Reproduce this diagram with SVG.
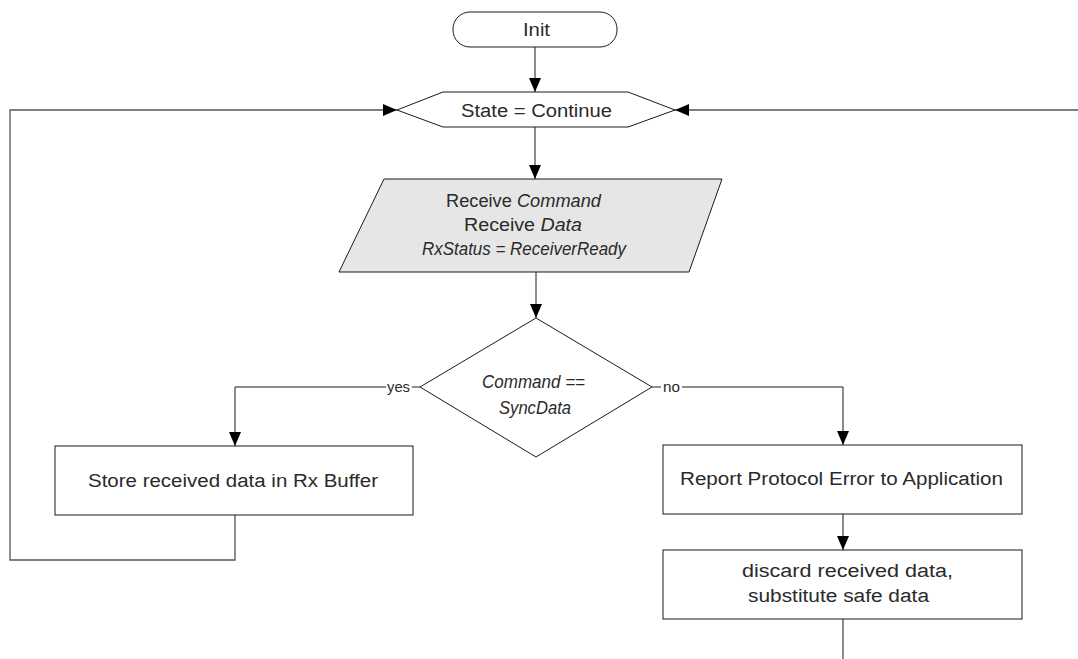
<svg xmlns="http://www.w3.org/2000/svg" width="1078" height="659" viewBox="0 0 1078 659">
<style>
.shape{fill:#fff;stroke:#1a1a1a;stroke-width:1}
.io{fill:#e6e6e6;stroke:#1a1a1a;stroke-width:1}
.t{font-family:"Liberation Sans",Arial,sans-serif;font-size:18px;fill:#2a2a2a;text-anchor:middle}
.i{font-style:italic}
.lbl{font-family:"Liberation Sans",Arial,sans-serif;font-size:14px;fill:#2a2a2a;text-anchor:middle}
.c{fill:none;stroke:#1a1a1a;stroke-width:1}
.loop{fill:none;stroke:#555;stroke-width:1.3}
</style>
<defs>
<marker id="arr" markerUnits="userSpaceOnUse" markerWidth="14" markerHeight="12" refX="14" refY="6" orient="auto">
<path d="M0,0 L14,6 L0,12 Z" fill="#000"/>
</marker>
</defs>
<g id="connectors">
<path class="c" d="M535,47 V92" marker-end="url(#arr)"/>
<path class="c" d="M535,127 V179" marker-end="url(#arr)"/>
<path class="c" d="M536,272 V318" marker-end="url(#arr)"/>
<path class="c" d="M420,387 H235 V446" marker-end="url(#arr)"/>
<path class="c" d="M652,387 H843 V445" marker-end="url(#arr)"/>
<path class="c" d="M843,514 V550" marker-end="url(#arr)"/>
<path class="c" d="M843,619 V659"/>
<path class="loop" d="M235,515 V560 H10 V110 H397" marker-end="url(#arr)"/>
<path class="loop" d="M1078,110 H675" marker-end="url(#arr)"/>
<rect x="386" y="379" width="26" height="16" fill="#fff"/>
<text class="lbl" x="398.5" y="392" textLength="23" lengthAdjust="spacingAndGlyphs">yes</text>
<rect x="661" y="379" width="21" height="16" fill="#fff"/>
<text class="lbl" x="671.5" y="392" textLength="17" lengthAdjust="spacingAndGlyphs">no</text>
</g>
<g id="init">
<rect class="shape" x="453" y="12" width="164" height="35" rx="17" ry="17"/>
<text class="t" x="536.5" y="36" textLength="27" lengthAdjust="spacingAndGlyphs">Init</text>
</g>
<g id="state">
<polygon class="shape" points="397,110 443,92 628,92 675,110 628,127 443,127"/>
<text class="t" x="536.5" y="117" textLength="151" lengthAdjust="spacingAndGlyphs">State = Continue</text>
</g>
<g id="receive">
<polygon class="io" points="384,179 722,179 689,272 339,272"/>
<text class="t" x="523.5" y="207" textLength="155" lengthAdjust="spacingAndGlyphs">Receive <tspan class="i">Command</tspan></text>
<text class="t" x="523" y="231" textLength="118" lengthAdjust="spacingAndGlyphs">Receive <tspan class="i">Data</tspan></text>
<text class="t i" x="524" y="255" textLength="204" lengthAdjust="spacingAndGlyphs">RxStatus = ReceiverReady</text>
</g>
<g id="decision">
<polygon class="shape" points="536,318 652,387 536,457 420,387"/>
<text class="t i" x="533.5" y="388" textLength="103" lengthAdjust="spacingAndGlyphs">Command ==</text>
<text class="t i" x="535" y="414" textLength="72" lengthAdjust="spacingAndGlyphs">SyncData</text>
</g>
<g id="store">
<rect class="shape" x="55" y="446" width="358" height="69"/>
<text class="t" x="233" y="487" textLength="290" lengthAdjust="spacingAndGlyphs">Store received data in Rx Buffer</text>
</g>
<g id="report">
<rect class="shape" x="663" y="445" width="359" height="69"/>
<text class="t" x="841.5" y="485" textLength="323" lengthAdjust="spacingAndGlyphs">Report Protocol Error to Application</text>
</g>
<g id="discard">
<rect class="shape" x="663" y="550" width="359" height="69"/>
<text class="t" x="847.5" y="577" textLength="211" lengthAdjust="spacingAndGlyphs">discard received data,</text>
<text class="t" x="838.5" y="602" textLength="181" lengthAdjust="spacingAndGlyphs">substitute safe data</text>
</g>
</svg>
